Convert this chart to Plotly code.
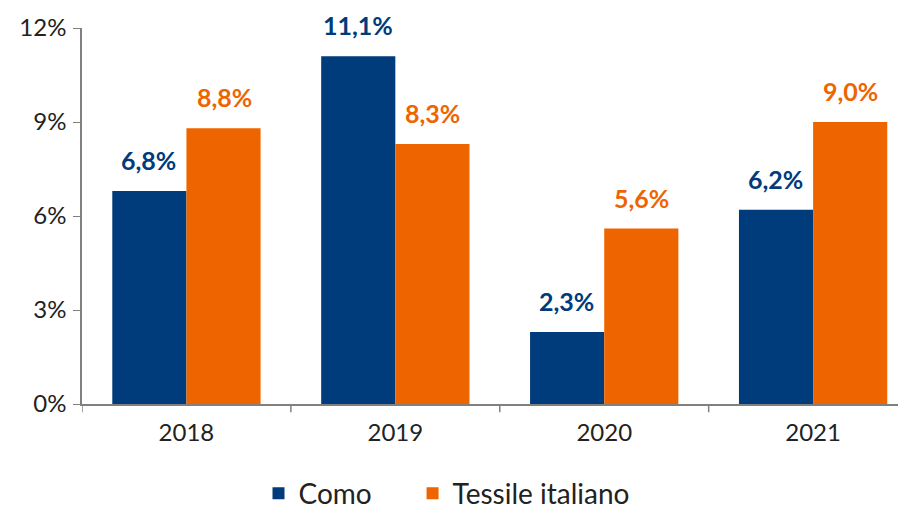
import plotly.graph_objects as go

years = ["2018", "2019", "2020", "2021"]
como = [6.8, 11.1, 2.3, 6.2]
tessile = [8.8, 8.3, 5.6, 9.0]
como_labels = ["6,8%", "11,1%", "2,3%", "6,2%"]
tessile_labels = ["8,8%", "8,3%", "5,6%", "9,0%"]
y_ticks = [0, 3, 6, 9, 12]
y_tick_text = ["0%", "3%", "6%", "9%", "12%"]
series_names = ["Como", "Tessile italiano"]

BLUE = "#003B7B"
ORANGE = "#EE6500"
FONT = "Lato"
NBSP = "\u00a0"

fig = go.Figure()
fig.add_trace(go.Bar(x=years, y=como, name=series_names[0] + NBSP * 5,
                     marker=dict(color=BLUE, line=dict(width=0))))
fig.add_trace(go.Bar(x=years, y=tessile, name=series_names[1],
                     marker=dict(color=ORANGE, line=dict(width=0))))

annotations = []
for i, (v, t) in enumerate(zip(como, como_labels)):
    annotations.append(dict(x=i - 0.18, y=v, text=t, showarrow=False, xref="x", yref="y",
                            yanchor="bottom", yshift=14,
                            font=dict(family=FONT, size=25, color=BLUE, weight="bold")))
for i, (v, t) in enumerate(zip(tessile, tessile_labels)):
    annotations.append(dict(x=i + 0.18, y=v, text=t, showarrow=False, xref="x", yref="y",
                            yanchor="bottom", yshift=14,
                            font=dict(family=FONT, size=25, color=ORANGE, weight="bold")))

fig.update_layout(
    width=906, height=509,
    margin=dict(l=74, r=0, t=20, b=113, autoexpand=False),
    plot_bgcolor="white", paper_bgcolor="white",
    barmode="group", bargap=0.29, bargroupgap=0,
    font=dict(family=FONT, size=24, color="#222222"),
    annotations=annotations,
    showlegend=True,
    legend=dict(orientation="h", x=0.484, xanchor="center", xref="container",
                y=0.046, yanchor="middle", yref="container",
                font=dict(family=FONT, size=28, color="#222222"), itemsizing="constant",
                traceorder="normal", itemwidth=30),
    xaxis=dict(type="category", range=[-0.5, 3.483], showline=True, linecolor="#808080", linewidth=1.5,
               ticks="", showgrid=False, tickfont=dict(size=24, color="#222222"), ticklabelstandoff=6,
               automargin=False),
    yaxis=dict(range=[0, 12], tickvals=y_ticks, ticktext=y_tick_text, showline=True,
               linecolor="#808080", linewidth=1.5, ticks="outside", ticklen=7, tickcolor="#808080",
               showgrid=False, zeroline=False, tickfont=dict(size=24, color="#222222"),
               automargin=False, ticklabelstandoff=2),
)

for i in range(len(years)):
    fig.add_shape(type="line", xref="x", yref="paper", x0=i - 0.5, x1=i - 0.5, y0=0, y1=-0.022,
                  line=dict(color="#808080", width=1.5))

fig.write_html("out.html")
